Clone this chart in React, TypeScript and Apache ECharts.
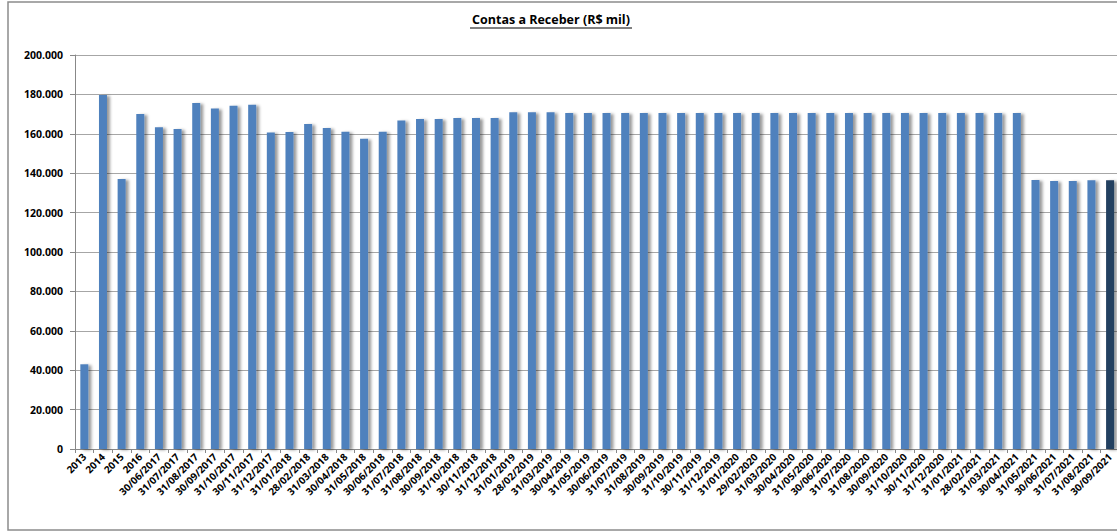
import React, { useEffect, useRef } from "react";
import * as echarts from "echarts";

const categories: string[] = [
  "2013", "2014", "2015", "2016",
  "30/06/2017", "31/07/2017", "31/08/2017", "30/09/2017", "31/10/2017", "30/11/2017", "31/12/2017",
  "31/01/2018", "28/02/2018", "31/03/2018", "30/04/2018", "31/05/2018", "30/06/2018", "31/07/2018", "31/08/2018", "30/09/2018", "31/10/2018", "30/11/2018", "31/12/2018",
  "31/01/2019", "28/02/2019", "31/03/2019", "30/04/2019", "31/05/2019", "30/06/2019", "31/07/2019", "31/08/2019", "30/09/2019", "31/10/2019", "30/11/2019", "31/12/2019",
  "31/01/2020", "29/02/2020", "31/03/2020", "30/04/2020", "31/05/2020", "30/06/2020", "31/07/2020", "31/08/2020", "30/09/2020", "31/10/2020", "30/11/2020", "31/12/2020",
  "31/01/2021", "28/02/2021", "31/03/2021", "30/04/2021", "31/05/2021", "30/06/2021", "31/07/2021", "31/08/2021", "30/09/2021",
];

const values: number[] = [
  43000, 179700, 137000, 170000,
  163300, 162400, 175600, 172900, 174300, 174800, 160600,
  160900, 165000, 163000, 161000, 157500, 161000, 166700, 167500, 167500, 168000, 168000, 168000,
  171000, 171000, 171000, 170600, 170600, 170600, 170600, 170600, 170600, 170600, 170600, 170600,
  170600, 170600, 170600, 170600, 170600, 170600, 170600, 170600, 170600, 170600, 170600, 170600,
  170600, 170600, 170600, 170600, 136500, 136000, 136000, 136400, 136400,
];

const yTicks = { min: 0, max: 200000, interval: 20000 };
const titleText = "Contas a Receber (R$ mil)";

function fmt(v: number): string {
  return String(Math.round(v)).replace(/\B(?=(\d{3})+(?!\d))/g, ".");
}

export default function App() {
  const ref = useRef<HTMLDivElement>(null);
  useEffect(() => {
    if (!ref.current) return;
    const chart = echarts.init(ref.current, null, { renderer: "svg" });
    const font = "'Open Sans', 'Liberation Sans', sans-serif";
    const data = values.map((v, i) =>
      i === values.length - 1
        ? { value: v, itemStyle: { color: "#243F60" } }
        : v
    );
    chart.setOption({
      animation: false,
      backgroundColor: "#ffffff",
      grid: { left: 75, top: 55, bottom: 83, width: 56 * 18.65, containLabel: false },
      graphic: [
        {
          type: "rect",
          shape: { x: 8, y: 2, width: 1200, height: 528 },
          style: { fill: "none", stroke: "#8c8c8c", lineWidth: 1.5 },
          silent: true,
        },
        {
          type: "text",
          x: 551,
          y: 19,
          style: {
            text: titleText,
            fontFamily: font,
            fontWeight: "bold",
            fontSize: 12.5,
            fill: "#000",
            textAlign: "center",
            textVerticalAlign: "middle",
          },
        },
        {
          type: "line",
          shape: { x1: 470, y1: 28, x2: 632, y2: 28 },
          style: { stroke: "#000", lineWidth: 1 },
        },
      ],
      xAxis: {
        type: "category",
        data: categories,
        boundaryGap: true,
        axisLine: { show: true, lineStyle: { color: "#888", width: 1 } },
        axisTick: { show: true, length: 4, alignWithLabel: false, lineStyle: { color: "#888" } },
        axisLabel: {
          interval: 0,
          rotate: 45,
          fontFamily: font,
          fontWeight: "bold",
          fontSize: 10,
          color: "#000",
          margin: 6,
        },
      },
      yAxis: {
        type: "value",
        min: yTicks.min,
        max: yTicks.max,
        interval: yTicks.interval,
        axisLine: { show: true, lineStyle: { color: "#888", width: 1 } },
        axisTick: { show: true, length: 5, lineStyle: { color: "#888" } },
        splitLine: { show: true, lineStyle: { color: "#a6a6a6", width: 1 } },
        axisLabel: {
          formatter: (v: number) => fmt(v),
          fontFamily: font,
          fontWeight: "bold",
          fontSize: 10.5,
          color: "#000",
          margin: 12,
        },
      },
      series: [
        {
          type: "bar",
          data,
          barWidth: 8,
          itemStyle: {
            color: "#4F81BD",
            shadowColor: "rgba(0,0,0,0.4)",
            shadowBlur: 3,
            shadowOffsetX: 3,
            shadowOffsetY: 1,
          },
        },
      ],
    });
    return () => chart.dispose();
  }, []);
  return (
    <div style={{ position: "fixed", left: 0, top: 0, width: 1117, height: 532, overflow: "hidden", background: "#fff" }}>
      <div ref={ref} style={{ width: 1135, height: 532 }} />
    </div>
  );
}
